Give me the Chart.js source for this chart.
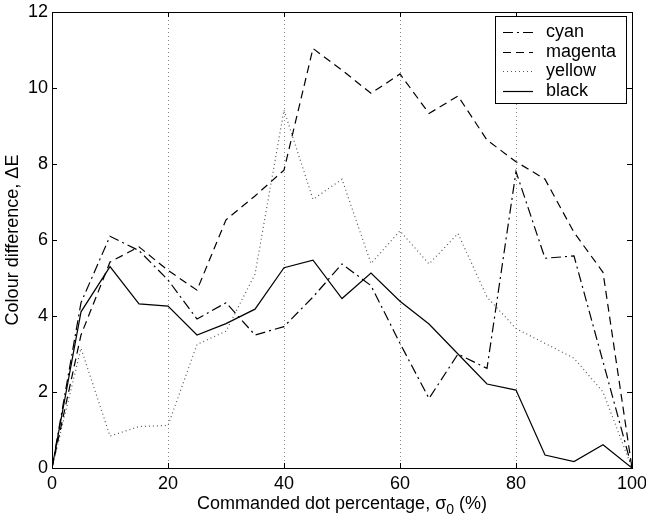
<!DOCTYPE html>
<html>
<head>
<meta charset="utf-8">
<script src="https://cdn.jsdelivr.net/npm/chart.js@4/dist/chart.umd.min.js"></script>
<style>
  html, body { margin:0; padding:0; background:#fff; }
  #wrap { width:646px; height:521px; }
</style>
</head>
<body>
<div id="wrap"><canvas id="grafico" width="646" height="521"></canvas></div>
<script>
/* =================== Dados =================== */
const pontos = [0, 5, 10, 15, 20, 25, 30, 35, 40, 45, 50, 55, 60, 65, 70, 75, 80, 85, 90, 95, 100];
const xTicks = [0, 20, 40, 60, 80, 100];
const yTicks = [0, 2, 4, 6, 8, 10, 12];

const cyan    = [0, 4.35, 6.1, 5.72, 4.95, 3.92, 4.35, 3.5, 3.72, 4.5, 5.37, 4.8, 3.28, 1.83, 3.0, 2.62, 7.8, 5.52, 5.58, 2.8, 0];
const magenta = [0, 3.5, 5.42, 5.82, 5.2, 4.68, 6.53, 7.16, 7.84, 11.04, 10.47, 9.86, 10.37, 9.33, 9.79, 8.63, 8.06, 7.6, 6.2, 5.15, 0];
const yellow  = [0, 3.15, 0.84, 1.09, 1.12, 3.25, 3.6, 5.1, 9.42, 7.07, 7.6, 5.38, 6.24, 5.37, 6.17, 4.5, 3.67, 3.28, 2.89, 2.0, 0];
const black   = [0, 4.11, 5.3, 4.32, 4.26, 3.5, 3.8, 4.18, 5.27, 5.47, 4.46, 5.13, 4.39, 3.79, 3.0, 2.21, 2.05, 0.34, 0.17, 0.61, 0];

const FONTE = "'Liberation Sans', Arial, Helvetica, sans-serif";

const serie = (label, valores, dash, cor) => ({
  label,
  data: pontos.map((x, i) => ({ x, y: valores[i] })),
  borderColor: cor,
  borderWidth: 1.2,
  borderDash: dash,
  pointRadius: 0,
  tension: 0,
  fill: false
});

/* --------------- Plugins --------------- */
// moldura + marcas internas (estilo matlab), nos 4 lados
const moldura = {
  id: 'moldura',
  afterDraw(chart){
    const {ctx, chartArea:a, scales:{x, y}} = chart;
    ctx.save();
    ctx.strokeStyle = '#000';
    ctx.lineWidth = 1;
    ctx.setLineDash([]);
    ctx.strokeRect(a.left + .5, a.top + .5, a.right - a.left, a.bottom - a.top);
    ctx.beginPath();
    x.ticks.forEach(t=>{
      const px = Math.round(x.getPixelForValue(t.value)) + .5;
      ctx.moveTo(px, a.bottom); ctx.lineTo(px, a.bottom - 5);
      ctx.moveTo(px, a.top); ctx.lineTo(px, a.top + 5);
    });
    y.ticks.forEach(t=>{
      const py = Math.round(y.getPixelForValue(t.value)) + .5;
      ctx.moveTo(a.left, py); ctx.lineTo(a.left + 5, py);
      ctx.moveTo(a.right, py); ctx.lineTo(a.right - 5, py);
    });
    ctx.stroke();
    ctx.restore();
  }
};

// titulo do eixo x com subscrito
const tituloX = {
  id: 'tituloX',
  afterDraw(chart){
    const {ctx, chartArea:a} = chart;
    const p1 = 'Commanded dot percentage, \u03c3', sub = '0', p2 = ' (%)';
    ctx.save();
    ctx.fillStyle = '#000';
    ctx.textBaseline = 'alphabetic';
    ctx.textAlign = 'left';
    ctx.font = `18px ${FONTE}`;
    const w1 = ctx.measureText(p1).width, w3 = ctx.measureText(p2).width;
    ctx.font = `14px ${FONTE}`;
    const w2 = ctx.measureText(sub).width;
    let x0 = (a.left + a.right)/2 - (w1 + w2 + w3)/2;
    const base = a.bottom + 41;
    ctx.font = `18px ${FONTE}`;
    ctx.fillText(p1, x0, base);
    ctx.font = `14px ${FONTE}`;
    ctx.fillText(sub, x0 + w1, base + 5);
    ctx.font = `18px ${FONTE}`;
    ctx.fillText(p2, x0 + w1 + w2, base);
    ctx.restore();
  }
};

// legenda em caixa no canto superior direito
const legenda = {
  id: 'legenda',
  afterDraw(chart){
    const {ctx, chartArea:a} = chart;
    const ds = chart.data.datasets;
    const bw = 131, bh = 87;
    const bx = a.right - 6 - bw, by = a.top + 4;
    ctx.save();
    ctx.fillStyle = '#fff';
    ctx.fillRect(bx, by, bw, bh);
    ctx.strokeStyle = '#000';
    ctx.lineWidth = 1;
    ctx.setLineDash([]);
    ctx.strokeRect(bx + .5, by + .5, bw, bh);
    ctx.font = `18px ${FONTE}`;
    ctx.textBaseline = 'middle';
    ctx.textAlign = 'left';
    ds.forEach((d, i)=>{
      const cy = Math.round(by + 16 + i*19.6) + .5;
      ctx.strokeStyle = d.borderColor;
      ctx.lineWidth = d.borderWidth;
      ctx.setLineDash(d.borderDash || []);
      ctx.beginPath();
      ctx.moveTo(bx + 8, cy); ctx.lineTo(bx + 38, cy);
      ctx.stroke();
      ctx.fillStyle = '#000';
      ctx.fillText(d.label, bx + 51, cy);
    });
    ctx.restore();
  }
};

/* --------------- Chart --------------- */
new Chart(document.getElementById('grafico'), {
  type: 'line',
  data: {
    datasets: [
      serie('cyan', cyan, [10, 4, 2, 4], '#000'),
      serie('magenta', magenta, [8, 5], '#000'),
      serie('yellow', yellow, [1, 3], '#555'),
      serie('black', black, [], '#000')
    ]
  },
  options: {
    responsive: false,
    animation: false,
    layout: { padding: { top: 12, right: 14, left: 0, bottom: 0 } },
    plugins: { legend: { display: false }, tooltip: { enabled: false } },
    scales: {
      x: {
        type: 'linear', min: 0, max: 100,
        afterBuildTicks: (s)=>{ s.ticks = xTicks.map(v=>({value:v})); },
        afterFit: (s)=>{ s.height = 53; s.paddingLeft = 0; s.paddingRight = 0; },
        ticks: { color:'#000', font:{ family:FONTE, size:18 }, padding:5, maxRotation:0 },
        grid: {
          drawTicks: false,
          color: (c)=> (c.tick && (c.tick.value === 0 || c.tick.value === 100)) ? 'rgba(0,0,0,0)' : '#888',
          lineWidth: 1
        },
        border: { display: false, dash: [1, 3] }
      },
      y: {
        min: 0, max: 12,
        afterBuildTicks: (s)=>{ s.ticks = yTicks.map(v=>({value:v})); },
        afterFit: (s)=>{ s.width = 52; s.paddingTop = 0; s.paddingBottom = 0; },
        ticks: { color:'#000', font:{ family:FONTE, size:18 }, padding:4 },
        grid: { drawTicks: false, drawOnChartArea: false },
        border: { display: false },
        title: {
          display: true, text: 'Colour difference, \u0394E', color:'#000',
          font: { family:FONTE, size:18 }, padding: { top: 2, bottom: 0 }
        }
      }
    }
  },
  plugins: [moldura, tituloX, legenda]
});
</script>
</body>
</html>
